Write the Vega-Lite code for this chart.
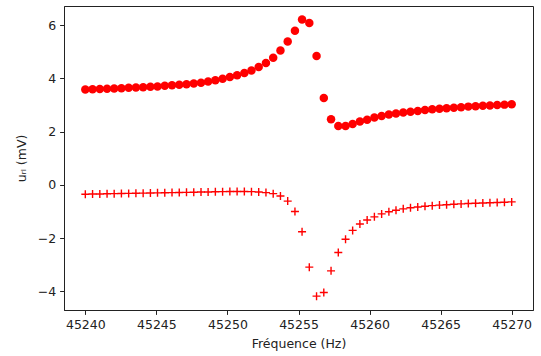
{
  "$schema": "https://vega.github.io/schema/vega-lite/v6.json",
  "width": 469,
  "height": 304,
  "autosize": {"type": "none"},
  "padding": {"left": 64, "top": 6, "right": 8, "bottom": 46},
  "background": "white",
  "config": {
    "view": {"stroke": "#222", "strokeWidth": 1},
    "font": "DejaVu Sans",
    "axis": {
      "grid": false,
      "domainColor": "#222",
      "tickColor": "#222",
      "tickSize": 4.4,
      "labelFont": "DejaVu Sans",
      "labelFontSize": 12.5,
      "labelColor": "#222",
      "labelPadding": 4,
      "titleFont": "DejaVu Sans",
      "titleFontSize": 12.5,
      "titleFontWeight": "normal",
      "titleColor": "#222"
    }
  },
  "datasets": {
    "cercles": [
      {"f": 45240.00, "u": 3.58}, {"f": 45240.51, "u": 3.59}, {"f": 45241.02, "u": 3.60}, {"f": 45241.53, "u": 3.61},
      {"f": 45242.03, "u": 3.62}, {"f": 45242.54, "u": 3.63}, {"f": 45243.05, "u": 3.645}, {"f": 45243.56, "u": 3.66},
      {"f": 45244.07, "u": 3.67}, {"f": 45244.58, "u": 3.685}, {"f": 45245.08, "u": 3.70}, {"f": 45245.59, "u": 3.72},
      {"f": 45246.10, "u": 3.74}, {"f": 45246.61, "u": 3.76}, {"f": 45247.12, "u": 3.78}, {"f": 45247.63, "u": 3.81},
      {"f": 45248.14, "u": 3.84}, {"f": 45248.64, "u": 3.88}, {"f": 45249.15, "u": 3.93}, {"f": 45249.66, "u": 3.99},
      {"f": 45250.17, "u": 4.05}, {"f": 45250.68, "u": 4.12}, {"f": 45251.19, "u": 4.20}, {"f": 45251.69, "u": 4.30},
      {"f": 45252.20, "u": 4.43}, {"f": 45252.71, "u": 4.58}, {"f": 45253.22, "u": 4.78}, {"f": 45253.73, "u": 5.05},
      {"f": 45254.24, "u": 5.39}, {"f": 45254.75, "u": 5.79}, {"f": 45255.25, "u": 6.21}, {"f": 45255.76, "u": 6.08},
      {"f": 45256.27, "u": 4.84}, {"f": 45256.78, "u": 3.26}, {"f": 45257.29, "u": 2.47}, {"f": 45257.80, "u": 2.21},
      {"f": 45258.31, "u": 2.21}, {"f": 45258.81, "u": 2.29}, {"f": 45259.32, "u": 2.38}, {"f": 45259.83, "u": 2.45},
      {"f": 45260.34, "u": 2.53}, {"f": 45260.85, "u": 2.59}, {"f": 45261.36, "u": 2.64}, {"f": 45261.86, "u": 2.68},
      {"f": 45262.37, "u": 2.72}, {"f": 45262.88, "u": 2.75}, {"f": 45263.39, "u": 2.78}, {"f": 45263.90, "u": 2.81},
      {"f": 45264.41, "u": 2.84}, {"f": 45264.92, "u": 2.86}, {"f": 45265.42, "u": 2.88}, {"f": 45265.93, "u": 2.90},
      {"f": 45266.44, "u": 2.92}, {"f": 45266.95, "u": 2.94}, {"f": 45267.46, "u": 2.955}, {"f": 45267.97, "u": 2.97},
      {"f": 45268.47, "u": 2.985}, {"f": 45268.98, "u": 3.00}, {"f": 45269.49, "u": 3.015}, {"f": 45270.00, "u": 3.03}
    ],
    "croix": [
      {"f": 45240.00, "u": -0.35}, {"f": 45240.51, "u": -0.345}, {"f": 45241.02, "u": -0.34}, {"f": 45241.53, "u": -0.335},
      {"f": 45242.03, "u": -0.33}, {"f": 45242.54, "u": -0.325}, {"f": 45243.05, "u": -0.32}, {"f": 45243.56, "u": -0.315},
      {"f": 45244.07, "u": -0.31}, {"f": 45244.58, "u": -0.305}, {"f": 45245.08, "u": -0.30}, {"f": 45245.59, "u": -0.295},
      {"f": 45246.10, "u": -0.29}, {"f": 45246.61, "u": -0.285}, {"f": 45247.12, "u": -0.28}, {"f": 45247.63, "u": -0.275},
      {"f": 45248.14, "u": -0.27}, {"f": 45248.64, "u": -0.265}, {"f": 45249.15, "u": -0.26}, {"f": 45249.66, "u": -0.255},
      {"f": 45250.17, "u": -0.25}, {"f": 45250.68, "u": -0.25}, {"f": 45251.19, "u": -0.25}, {"f": 45251.69, "u": -0.255},
      {"f": 45252.20, "u": -0.265}, {"f": 45252.71, "u": -0.29}, {"f": 45253.22, "u": -0.33}, {"f": 45253.73, "u": -0.42},
      {"f": 45254.24, "u": -0.61}, {"f": 45254.75, "u": -1.00}, {"f": 45255.25, "u": -1.76}, {"f": 45255.76, "u": -3.09},
      {"f": 45256.27, "u": -4.18}, {"f": 45256.78, "u": -4.04}, {"f": 45257.29, "u": -3.23}, {"f": 45257.80, "u": -2.54},
      {"f": 45258.31, "u": -2.04}, {"f": 45258.81, "u": -1.71}, {"f": 45259.32, "u": -1.47}, {"f": 45259.83, "u": -1.32},
      {"f": 45260.34, "u": -1.20}, {"f": 45260.85, "u": -1.09}, {"f": 45261.36, "u": -1.01}, {"f": 45261.86, "u": -0.95},
      {"f": 45262.37, "u": -0.90}, {"f": 45262.88, "u": -0.86}, {"f": 45263.39, "u": -0.83}, {"f": 45263.90, "u": -0.80},
      {"f": 45264.41, "u": -0.78}, {"f": 45264.92, "u": -0.76}, {"f": 45265.42, "u": -0.745}, {"f": 45265.93, "u": -0.73},
      {"f": 45266.44, "u": -0.715}, {"f": 45266.95, "u": -0.70}, {"f": 45267.46, "u": -0.69}, {"f": 45267.97, "u": -0.68},
      {"f": 45268.47, "u": -0.67}, {"f": 45268.98, "u": -0.66}, {"f": 45269.49, "u": -0.65}, {"f": 45270.00, "u": -0.64}
    ]
  },
  "encoding": {
    "x": {
      "field": "f", "type": "quantitative",
      "scale": {"domain": [45238.5, 45271.5], "nice": false, "zero": false},
      "axis": {"title": "Fréquence (Hz)", "values": [45240, 45245, 45250, 45255, 45260, 45265, 45270], "format": "d", "titlePadding": 7}
    },
    "y": {
      "field": "u", "type": "quantitative",
      "scale": {"domain": [-4.7, 6.72], "nice": false, "zero": false},
      "axis": {"title": "uᵣₗ (mV)", "values": [-4, -2, 0, 2, 4, 6], "titlePadding": 9}
    }
  },
  "layer": [
    {
      "data": {"name": "cercles"},
      "mark": {"type": "point", "shape": "circle", "filled": true, "color": "#ff0000", "opacity": 1, "size": 72}
    },
    {
      "data": {"name": "croix"},
      "mark": {"type": "point", "shape": "M-1,0L1,0M0,-1L0,1", "filled": false, "color": "#ff0000", "opacity": 1, "size": 64, "strokeWidth": 1.4}
    }
  ]
}
